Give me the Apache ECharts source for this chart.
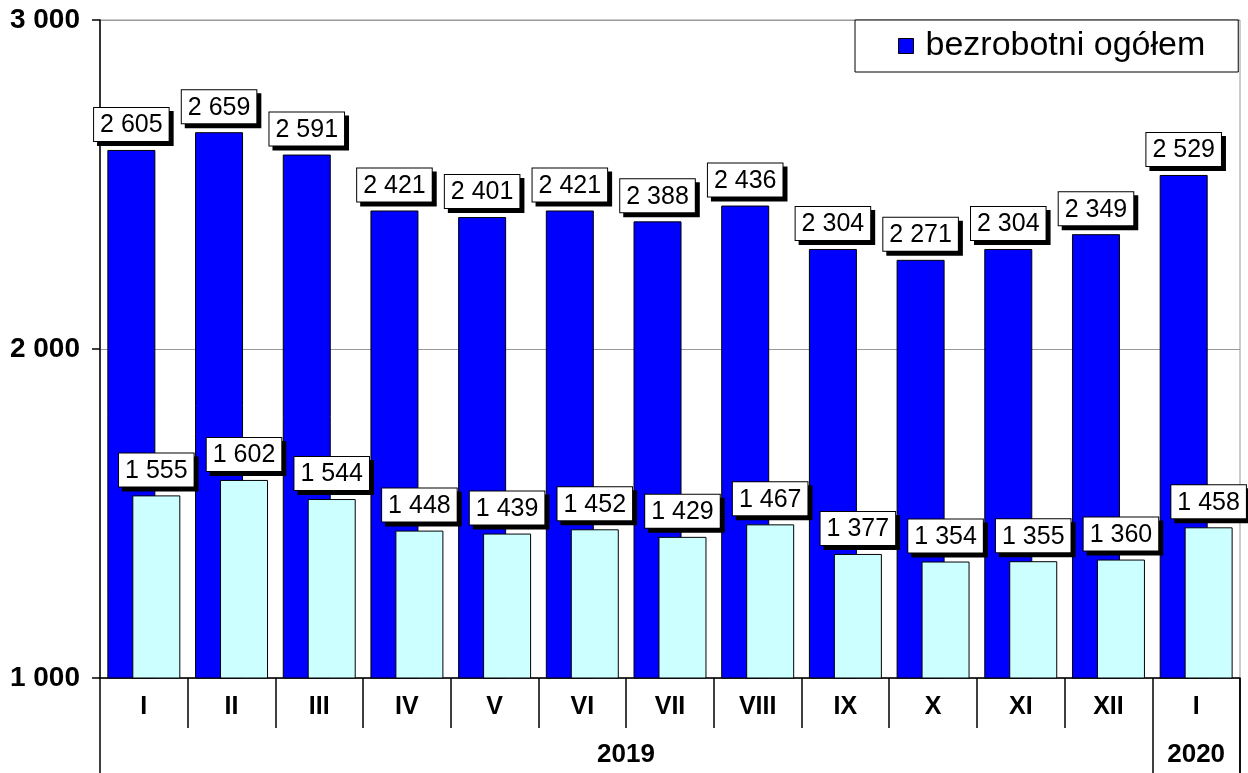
<!DOCTYPE html>
<html>
<head>
<meta charset="utf-8">
<script src="https://cdn.jsdelivr.net/npm/echarts@6/dist/echarts.min.js"></script>
<style>html,body{margin:0;padding:0;background:#fff;}#c{width:1248px;height:773px;}</style>
</head>
<body>
<div id="c"></div>
<script>
const months = ['I','II','III','IV','V','VI','VII','VIII','IX','X','XI','XII','I'];
const years = ['','','','','','','2019','','','','','','2020'];
const totalValues = [2605, 2659, 2591, 2421, 2401, 2421, 2388, 2436, 2304, 2271, 2304, 2349, 2529];
const secondValues = [1555, 1602, 1544, 1448, 1439, 1452, 1429, 1467, 1377, 1354, 1355, 1360, 1458];
const yTicks = [1000, 2000, 3000];
const legendName = 'bezrobotni ogółem';
const secondName = 'kobiety';

const fmt = v => String(v).replace(/\B(?=(\d{3})+(?!\d))/g, ' ');
const FONT = 'Liberation Sans, Arial, sans-serif';
const boxLabel = {
  show: true, position: 'top', distance: 9,
  formatter: p => fmt(p.value),
  color: '#000', fontFamily: FONT, fontSize: 25,
  backgroundColor: '#fff', borderColor: '#000', borderWidth: 1,
  padding: [5, 6, 3, 6],
  shadowColor: '#000', shadowOffsetX: 4, shadowOffsetY: 4, shadowBlur: 0
};

const GRID = { left: 100, right: 8, top: 20, bottom: 95 };
const chart = echarts.init(document.getElementById('c'));
chart.setOption({
  animation: false,
  backgroundColor: '#fff',
  grid: Object.assign({ show: true, borderColor: '#999', borderWidth: 1, backgroundColor: '#fff' }, GRID),
  legend: {
    data: [legendName], left: 855, top: 20, padding: [9, 33, 9, 43],
    borderColor: '#000', borderWidth: 1, backgroundColor: '#fff',
    icon: 'rect', itemWidth: 15, itemHeight: 15, itemGap: 0,
    itemStyle: { borderColor: '#000', borderWidth: 1 },
    textStyle: { fontFamily: FONT, fontSize: 34, color: '#000', padding: [0, 0, 0, 7] }
  },
  graphic: [{
    type: 'line', z: 10,
    shape: { x1: 1248 - GRID.right, y1: 773 - GRID.bottom, x2: 1248 - GRID.right, y2: 773 },
    style: { stroke: '#000', lineWidth: 1.5 }
  }],
  xAxis: [
    {
      type: 'category', data: months, position: 'bottom',
      axisLine: { lineStyle: { color: '#000', width: 1.5 } },
      axisTick: { show: true, interval: 0, length: 50, lineStyle: { color: '#000', width: 1.5 } },
      axisLabel: { interval: 0, margin: 17, fontFamily: FONT, fontSize: 25, fontWeight: 'bold', color: '#000' }
    },
    {
      type: 'category', data: years, position: 'bottom', offset: 0,
      axisLine: { show: false },
      axisTick: { show: true, interval: (i) => i === 0 || i === 12, length: 95, lineStyle: { color: '#000', width: 1.5 } },
      axisLabel: {
        interval: 0, margin: 64, fontFamily: FONT, fontSize: 26, fontWeight: 'bold', color: '#000',
        formatter: (v, i) => i === 6 ? '{a|' + v + '}' : v,
        rich: { a: { fontFamily: FONT, fontSize: 26, fontWeight: 'bold', color: '#000', padding: [0, 88, 0, 0] } }
      }
    }
  ],
  yAxis: {
    type: 'value', min: yTicks[0], max: yTicks[yTicks.length - 1], interval: 1000,
    axisLine: { show: true, lineStyle: { color: '#000', width: 1.5 } },
    axisTick: { show: true, length: 8, lineStyle: { color: '#000', width: 1.5 } },
    axisLabel: { formatter: v => fmt(v), margin: 20, fontFamily: FONT, fontSize: 28, fontWeight: 'bold', color: '#000' },
    splitLine: { show: true, lineStyle: { color: '#999', width: 1 } }
  },
  series: [
    {
      name: legendName, type: 'bar', data: totalValues, barWidth: 48, barGap: '-48%',
      itemStyle: { color: '#0000ff', borderColor: '#000', borderWidth: 1 },
      label: boxLabel
    },
    {
      name: secondName, type: 'bar', data: secondValues, barWidth: 48, barGap: '-48%',
      itemStyle: { color: '#ccffff', borderColor: '#000', borderWidth: 1 },
      label: boxLabel
    }
  ]
});
</script>
</body>
</html>
